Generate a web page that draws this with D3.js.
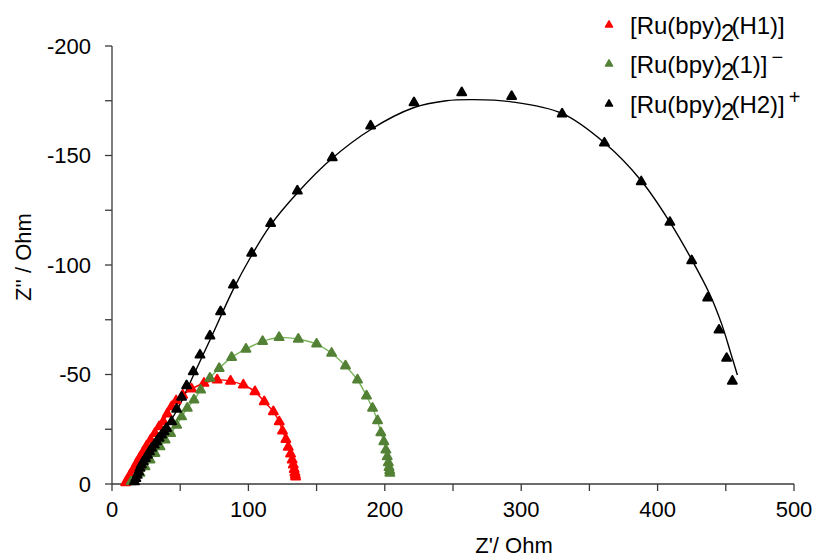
<!DOCTYPE html>
<html>
<head>
<meta charset="utf-8">
<script src="https://cdn.jsdelivr.net/npm/d3@7"></script>
<style>
  body { margin: 0; background: #fff; }
  text { font-family: "Liberation Sans", Arial, sans-serif; fill: #000; }
</style>
</head>
<body>
<script>
// Nyquist data: Z' (Ohm) and Z'' (Ohm)
let h1Re = [10, 11.5, 13.2, 15.6, 18, 20.5, 23, 25.4, 28.3, 31.4, 34.6, 37.6, 40.5, 43.7, 47, 51.8, 58.3, 67.4, 77.1, 86.9, 96.3, 104.8, 111.6, 118.3, 122.6, 125, 127.5, 129.2, 130.9, 132.1, 132.9, 133.6, 134.1, 134.4, 134.6];
let h1Im = [-0.6, -2, -4.1, -6.7, -9.4, -12.2, -14.8, -17.4, -20.1, -23.1, -26.2, -28.5, -32, -35.3, -38, -40.6, -43.4, -46, -47.5, -47, -45.2, -42.2, -37.6, -33, -28.4, -24.2, -20.4, -16.8, -13.7, -11, -8.7, -6.7, -5.2, -4.1, -3.2];

let l1Re = [14, 17, 20.5, 24.2, 27.9, 31.5, 35.2, 38.9, 43, 47.4, 51, 55.2, 60.1, 65, 71.8, 78.6, 87.7, 98.2, 110.4, 122.5, 136.6, 150, 161, 171.2, 180, 186.6, 191, 194.7, 197.1, 199.3, 200.8, 201.8, 202.6, 203.1, 203.6, 203.7];
let l1Im = [-1, -2.5, -4.9, -7.9, -11, -14, -17, -20.1, -23.1, -26.9, -30.7, -34.6, -38.4, -42.9, -48.3, -52.8, -57.8, -61.6, -65.1, -66.9, -66.1, -63.9, -59.7, -53.9, -47.5, -40.2, -34.6, -28.9, -23.4, -19.3, -15.5, -12.5, -9.7, -7.6, -6.1, -4.9];

let h2Re = [16.5, 17.5, 18.5, 19.5, 20.5, 21.5, 23, 24.5, 26, 27.5, 29, 31, 32.7, 34.5, 36.4, 38.2, 40, 43.7, 47.4, 51, 54.7, 59.6, 64.5, 71.8, 79.6, 89, 102.4, 116.3, 135.9, 161.5, 189.6, 221.4, 256.4, 293, 330, 361, 388, 409, 425, 436.7, 445, 450.6, 454.8];
let h2Im = [-1, -2.5, -4, -5.5, -7.2, -8.7, -10.2, -11.7, -13.2, -14.7, -16.3, -17.8, -19.3, -20.9, -22.4, -23.9, -25.4, -28.5, -34.2, -39.6, -44.9, -51.3, -58.9, -67.6, -78.7, -90.9, -105.4, -119, -133.8, -149, -163.5, -174.1, -178.7, -177, -169, -155.7, -138, -119.5, -102, -85, -70.3, -57.4, -47];

// fitted curve for the H2 complex (drawn as thin line)
let h2FitRe = [17, 30, 47, 60, 72, 89, 102, 116, 136, 161, 190, 221, 245, 265, 293, 330, 361, 388, 409, 425, 438, 447, 453.5, 458.5];
let h2FitIm = [-2, -17, -33, -50, -66, -89, -104, -118, -133, -148.5, -162, -171.8, -175, -175.5, -174.5, -169.2, -155.8, -138.5, -119.6, -102.5, -87, -73, -60, -49.8];

let xTicks = [0, 100, 200, 300, 400, 500];
let yTicks = [0, -50, -100, -150, -200];

let width = 817, height = 560;
let x = d3.scaleLinear().domain([0, 500]).range([112, 794]);
let y = d3.scaleLinear().domain([0, -200]).range([484, 46]);

let svg = d3.select("body").append("svg")
  .attr("width", width)
  .attr("height", height);

let zip = (re, im) => re.map((v, i) => [v, im[i]]);

let series = [
  { name: "H1", pts: zip(h1Re, h1Im), fit: zip(h1Re, h1Im), marker: "#ff0000", line: "#ff0000" },
  { name: "1", pts: zip(l1Re, l1Im), fit: zip(l1Re, l1Im), marker: "#538135", line: "#7ab55c" },
  { name: "H2", pts: zip(h2Re, h2Im), fit: zip(h2FitRe, h2FitIm), marker: "#000000", line: "#000000" }
];

// axes
let axisColor = "#3a3a3a";
svg.append("line")
  .attr("x1", x(0)).attr("x2", x(500))
  .attr("y1", y(0)).attr("y2", y(0))
  .attr("stroke", axisColor).attr("stroke-width", 1.3);
svg.append("line")
  .attr("x1", x(0)).attr("x2", x(0))
  .attr("y1", y(0)).attr("y2", y(-200))
  .attr("stroke", axisColor).attr("stroke-width", 1.3);

svg.append("g").selectAll("line")
  .data(d3.range(0, 501, 50))
  .enter().append("line")
  .attr("x1", d => x(d)).attr("x2", d => x(d))
  .attr("y1", y(0)).attr("y2", y(0) + 7)
  .attr("stroke", axisColor).attr("stroke-width", 1.3);

svg.append("g").selectAll("line")
  .data(d3.range(0, -201, -25))
  .enter().append("line")
  .attr("x1", x(0) - 7).attr("x2", x(0))
  .attr("y1", d => y(d)).attr("y2", d => y(d))
  .attr("stroke", axisColor).attr("stroke-width", 1.3);

svg.append("g").selectAll("text")
  .data(xTicks)
  .enter().append("text")
  .attr("x", d => x(d))
  .attr("y", y(0) + 33)
  .attr("text-anchor", "middle")
  .attr("font-size", 22)
  .text(d => d);

svg.append("g").selectAll("text")
  .data(yTicks)
  .enter().append("text")
  .attr("x", x(0) - 21)
  .attr("y", d => y(d))
  .attr("dy", "0.36em")
  .attr("text-anchor", "end")
  .attr("font-size", 22)
  .text(d => d);

svg.append("text")
  .attr("x", 514)
  .attr("y", 553)
  .attr("text-anchor", "middle")
  .attr("font-size", 22)
  .text("Z'/ Ohm");

svg.append("text")
  .attr("transform", "translate(31,257) rotate(-90)")
  .attr("text-anchor", "middle")
  .attr("font-size", 22)
  .text("Z'' / Ohm");

// lines and markers
let line = d3.line()
  .x(d => x(d[0]))
  .y(d => y(d[1]))
  .curve(d3.curveCatmullRom);

let tri = d3.symbol().type(d3.symbolTriangle).size(34);

series.forEach(s => {
  svg.append("path")
    .attr("d", line(s.fit))
    .attr("fill", "none")
    .attr("stroke", s.line)
    .attr("stroke-width", 1.4);
});

series.forEach(s => {
  svg.append("g").selectAll("path")
    .data(s.pts)
    .enter().append("path")
    .attr("d", tri)
    .attr("transform", d => "translate(" + x(d[0]) + "," + y(d[1]) + ")")
    .attr("fill", s.marker)
    .attr("stroke", s.marker)
    .attr("stroke-width", 2)
    .attr("stroke-linejoin", "round");
});

// legend
let legend = [
  { id: "H1", color: "#ff0000", sup: "" },
  { id: "1", color: "#538135", sup: "\u2212" },
  { id: "H2", color: "#000000", sup: "+" }
];
let legendY = [25, 64, 104];

let lg = svg.append("g").selectAll("g")
  .data(legend)
  .enter().append("g")
  .attr("transform", (d, i) => "translate(609," + legendY[i] + ")");

lg.append("path")
  .attr("d", d3.symbol().type(d3.symbolTriangle).size(22))
  .attr("fill", d => d.color)
  .attr("stroke", d => d.color)
  .attr("stroke-width", 1.5)
  .attr("stroke-linejoin", "round");

let lt = lg.append("text")
  .attr("x", 21)
  .attr("dy", "0.36em")
  .attr("font-size", 24);
lt.append("tspan").text("[Ru(bpy)");
lt.append("tspan").attr("dy", 7).attr("dx", -1).text("2");
lt.append("tspan").attr("dy", -7).attr("dx", -3).text(d => "(" + d.id + ")]");
lt.append("tspan").attr("dy", -9).attr("dx", 4).attr("font-size", 20).text(d => d.sup);
</script>
</body>
</html>
